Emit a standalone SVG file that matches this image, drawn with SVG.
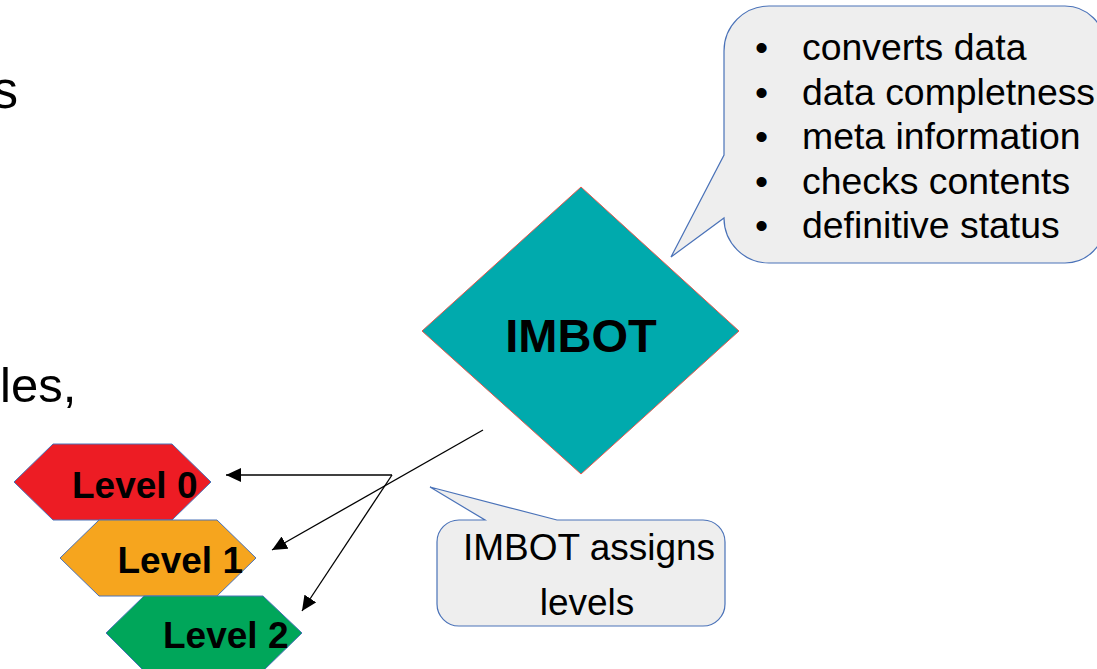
<svg xmlns="http://www.w3.org/2000/svg" width="1097" height="669" viewBox="0 0 1097 669">
<defs>
<marker id="arr" markerUnits="userSpaceOnUse" markerWidth="16" markerHeight="14" refX="15" refY="7" orient="auto">
<path d="M0,0 L15,7 L0,14 Z" fill="#000"/>
</marker>
<style>
.t{font-family:"Liberation Sans",Arial,sans-serif;fill:#000}
.b{font-weight:bold}
.co{fill:#eeeeee;stroke:#4a72b8;stroke-width:1.2}
.hx{stroke:#4a72b8;stroke-width:1}
.cn{stroke:#000;stroke-width:1.3;fill:none}
</style>
</defs>
<rect width="1097" height="669" fill="#fff"/>
<g id="bgtext">
<text class="t" x="18" y="108" font-size="51" text-anchor="end">s</text>
<text class="t" x="0" y="402" font-size="49">les,</text>
</g>
<g id="callout-top">
<path class="co" d="M769,6 H1065 A40,40 0 0 1 1105,46 V223 A40,40 0 0 1 1065,263 H769 A45,45 0 0 1 724,218 L671,257 L724,155 V51 A45,45 0 0 1 769,6 Z"/>
<g class="t" font-size="37.4">
<text x="755" y="60">•</text><text x="802" y="60">converts data</text>
<text x="755" y="104.5">•</text><text x="802" y="104.5">data completness</text>
<text x="755" y="149">•</text><text x="802" y="149">meta information</text>
<text x="755" y="193.5">•</text><text x="802" y="193.5">checks contents</text>
<text x="755" y="238">•</text><text x="802" y="238">definitive status</text>
</g>
</g>
<g id="imbot">
<polygon points="581,187 739,331 581,474 422,331" fill="#00aaad" stroke="#e8584f" stroke-width="1"/>
<text class="t b" x="581" y="352" font-size="47" text-anchor="middle">IMBOT</text>
</g>
<g id="callout-bottom">
<path class="co" d="M459,520 H485 L430,487 L557,520 H703 A22,22 0 0 1 725,542 V604 A22,22 0 0 1 703,626 H459 A22,22 0 0 1 437,604 V542 A22,22 0 0 1 459,520 Z"/>
<text class="t" x="589" y="560" font-size="37" text-anchor="middle">IMBOT assigns</text>
<text class="t" x="587" y="615" font-size="37" text-anchor="middle">levels</text>
</g>
<g id="level0">
<polygon class="hx" points="14,482 53,444 172,444 211,482 172,520 53,520" fill="#ed1c24"/>
<text class="t b" x="72" y="498" font-size="37">Level 0</text>
</g>
<g id="level1">
<polygon class="hx" points="60,558 99,520 217,520 256,558 217,596 99,596" fill="#f6a51e"/>
<text class="t b" x="117.5" y="573" font-size="37">Level 1</text>
</g>
<g id="level2">
<polygon class="hx" points="106,633 144,596 263,596 302,633 263,671 144,671" fill="#00a65a"/>
<text class="t b" x="163" y="648" font-size="37">Level 2</text>
</g>
<g id="connectors">
<line class="cn" x1="483" y1="430" x2="272" y2="550" marker-end="url(#arr)"/>
<polyline class="cn" points="392,475 226,475" marker-end="url(#arr)"/>
<line class="cn" x1="392" y1="475" x2="302" y2="611" marker-end="url(#arr)"/>
</g>
</svg>
